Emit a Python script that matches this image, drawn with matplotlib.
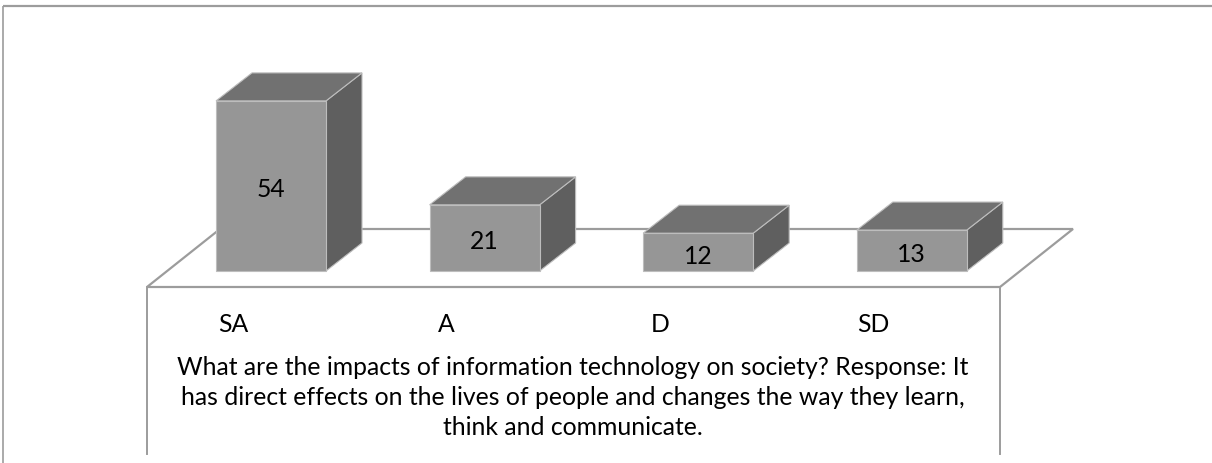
import matplotlib
matplotlib.use("Agg")
import matplotlib.pyplot as plt
from matplotlib.patches import Polygon

# Survey responses
categories = ["SA", "A", "D", "SD"]
values = [54, 21, 12, 13]
title = ("What are the impacts of information technology on society? Response: It\n"
         "has direct effects on the lives of people and changes the way they learn,\n"
         "think and communicate.")

W, H = 1212, 463
fig = plt.figure(figsize=(W / 100, H / 100), dpi=100)
ax = fig.add_axes([0, 0, 1, 1])
ax.set_xlim(0, W)
ax.set_ylim(H, 0)
ax.axis("off")

FONT = "Lato"
FS = 17.8
line_col = "#9c9c9c"

# Outer frame (top and left edges)
ax.plot([3, W], [5.5, 5.5], color=line_col, lw=1.6, solid_capstyle="butt")
ax.plot([3, 3], [5.5, H], color=line_col, lw=1.2, solid_capstyle="butt")

# Floor plane in oblique projection
fx0, fx1, fy = 147, 1000, 287      # front edge
ddx, ddy = 73, -58                 # floor depth offset
floor = Polygon([(fx0, fy), (fx1, fy), (fx1 + ddx, fy + ddy), (fx0 + ddx, fy + ddy)],
                closed=True, facecolor="white", edgecolor=line_col, lw=1.6, zorder=1)
ax.add_patch(floor)
# front panel sides below the floor
ax.plot([fx0, fx0], [fy, 454], color=line_col, lw=1.4, zorder=1)
ax.plot([fx1, fx1], [fy, 454], color=line_col, lw=1.4, zorder=1)

# 3D bars
base_y = 271
scale = 3.15           # pixels per response
slot = 213.6
x_first = 216
bw = 110
bdx, bdy = 36, -28     # bar depth offset
front_c = "#969696"
top_c = "#717171"
side_c = "#5f5f5f"
edge_c = "#bdbdbd"

for i, (cat, v) in enumerate(zip(categories, values)):
    x0 = x_first + i * slot
    x1 = x0 + bw
    top = base_y - v * scale
    side = Polygon([(x1, base_y), (x1 + bdx, base_y + bdy), (x1 + bdx, top + bdy), (x1, top)],
                   closed=True, facecolor=side_c, edgecolor=edge_c, lw=0.8, zorder=3)
    cap = Polygon([(x0, top), (x1, top), (x1 + bdx, top + bdy), (x0 + bdx, top + bdy)],
                  closed=True, facecolor=top_c, edgecolor=edge_c, lw=0.8, zorder=3)
    front = Polygon([(x0, base_y), (x1, base_y), (x1, top), (x0, top)],
                    closed=True, facecolor=front_c, edgecolor=edge_c, lw=0.8, zorder=4)
    for p in (side, cap, front):
        ax.add_patch(p)
    ax.text((x0 + x1) / 2, (top + base_y) / 2 + 4, str(v), ha="center", va="center",
            fontsize=FS, family=FONT, color="black", zorder=5)
    ax.text(x0 + 17, 325, cat, ha="center", va="center",
            fontsize=FS, family=FONT, color="black", zorder=5)

ax.text(573, 397.5, title, ha="center", va="center", fontsize=FS, family=FONT,
        color="black", linespacing=1.37, zorder=5)

fig.savefig("out.png", dpi=100)
